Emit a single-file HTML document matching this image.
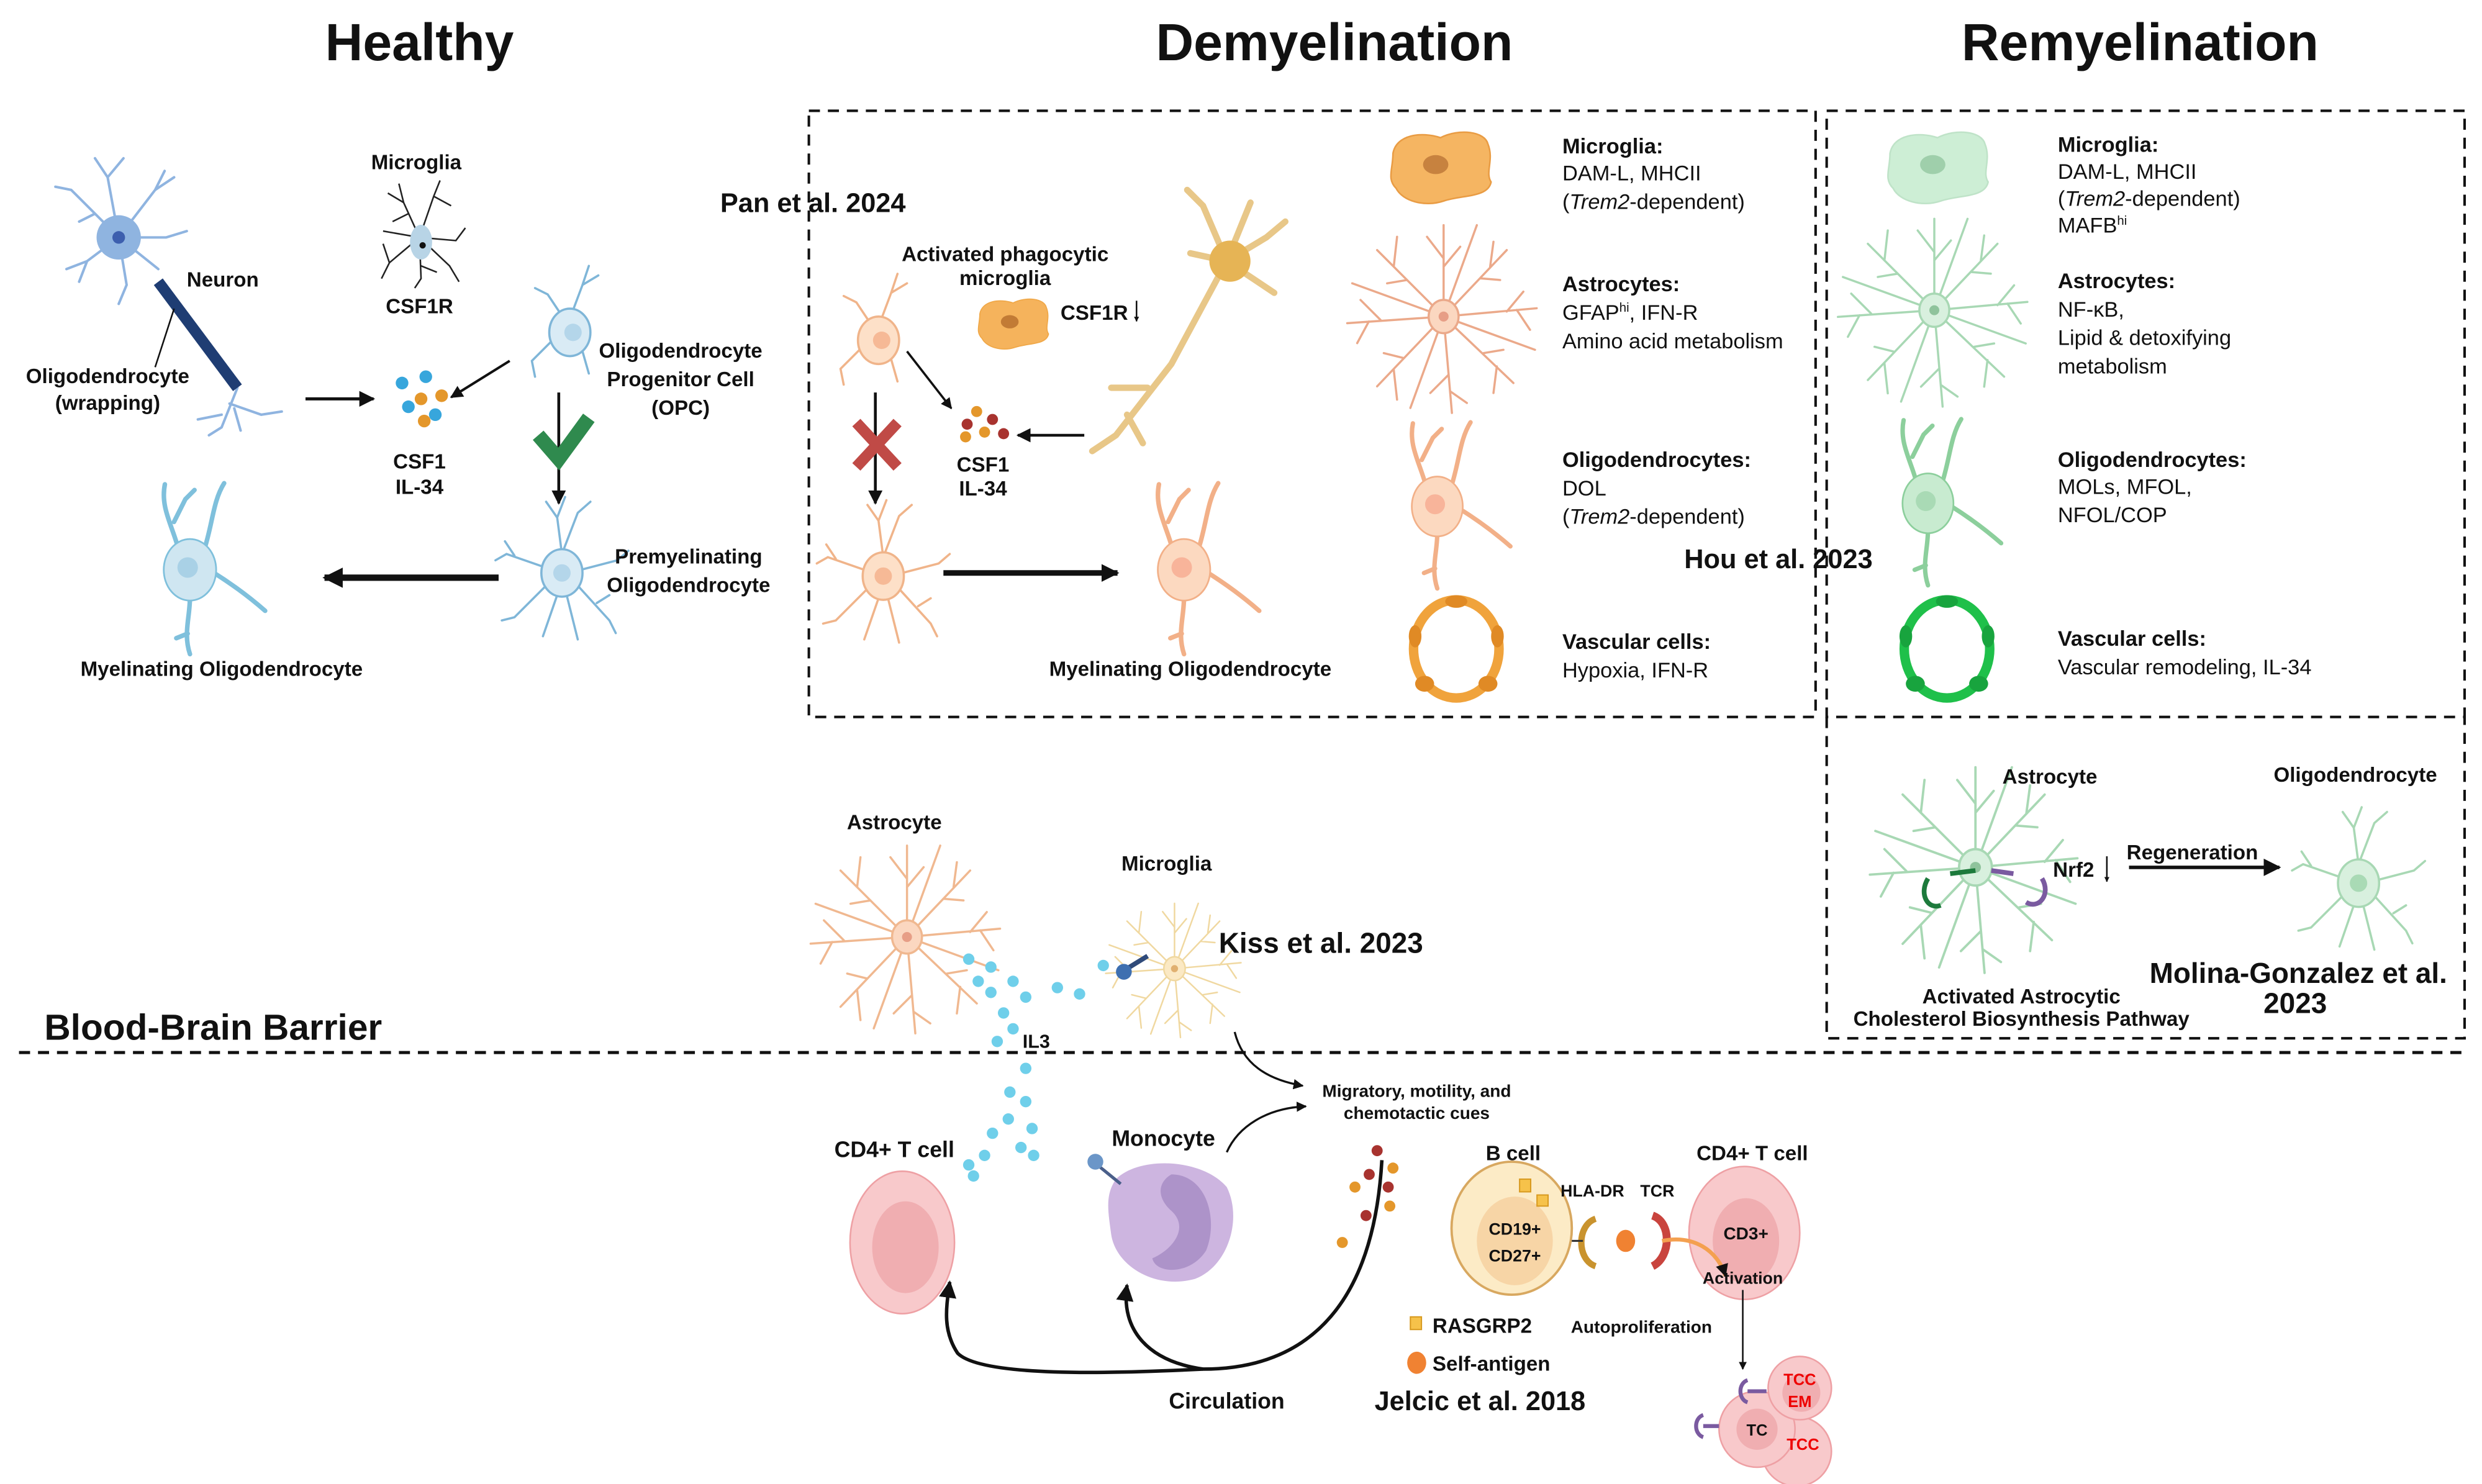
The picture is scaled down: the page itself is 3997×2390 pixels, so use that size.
<!DOCTYPE html>
<html><head><meta charset="utf-8"><style>
html,body{margin:0;padding:0;background:#fff}
svg{display:block}
text{font-family:"Liberation Sans Narrow","Liberation Sans",sans-serif;fill:#111}
.b{font-weight:bold}
.t{font-family:"Liberation Sans",sans-serif;font-weight:bold;font-size:33px}
.c{text-anchor:middle}
</style></head><body>
<svg width="3997" height="2390" viewBox="0 0 1568 937.6" preserveAspectRatio="none" xmlns="http://www.w3.org/2000/svg">
<defs>
<marker id="ar" viewBox="0 0 10 10" refX="9" refY="5" markerWidth="5" markerHeight="5" orient="auto"><path d="M0,0L10,5L0,10z" fill="#111"/></marker>
<marker id="ar2" viewBox="0 0 10 10" refX="9" refY="5" markerWidth="3.2" markerHeight="3.2" orient="auto"><path d="M0,0L10,5L0,10z" fill="#111"/></marker>
<g id="pre" fill="none" stroke="currentColor" stroke-width="1.4" stroke-linecap="round">
<path d="M0,-12L-3,-35L-10,-45M-3,-35L2,-48M0,-12L10,-38L18,-45M-12,-4L-35,-12L-42,-8M-30,-11L-36,-20M12,-2L35,-8L42,-14M-10,8L-30,28L-38,30M10,8L30,30L34,38M-3,14L-12,40M3,14L10,42M22,19L30,14"/>
<ellipse rx="13" ry="15" style="fill:var(--f)"/><circle r="5.5" stroke="none" style="fill:var(--n)"/>
</g>
<g id="opc" fill="none" stroke="currentColor" stroke-width="1.4" stroke-linecap="round">
<path d="M2,-14L8,-30L12,-42M8,-30L18,-36M-6,-12L-14,-24L-22,-28M-12,6L-24,18L-22,28M8,12L12,26"/>
<ellipse rx="13" ry="15" style="fill:var(--f)"/><circle cx="2" r="5.5" stroke="none" style="fill:var(--n)"/>
</g>
<g id="mye" fill="none" stroke="currentColor" stroke-width="4" stroke-linecap="round">
<path d="M-10,-18C-16,-40 -26,-55 -22,-75M-14,-42L-4,-62L4,-70M12,-16C20,-40 20,-60 30,-76M20,2C36,12 50,22 66,36M0,24C0,42 -6,56 0,74M-2,56L-12,60"/>
<ellipse rx="23" ry="27" style="fill:var(--f)" stroke-width="1.5"/><circle cx="-2" cy="-2" r="9" stroke="none" style="fill:var(--n)"/>
</g>
<g id="astro" fill="none" stroke="currentColor" stroke-width="1.3" stroke-linecap="round">
<path d="M0,0L0,-55M0,-35L-10,-48M0,-30L10,-42M0,0L38,-40M22,-23L34,-22M28,-30L30,-45M0,0L56,-5M38,-3L48,-15M44,-4L52,8M0,0L42,40M24,22L36,20M32,30L30,46M0,0L5,58M3,35L-8,46M4,45L14,52M0,0L-40,42M-24,25L-36,22M-30,32L-28,50M0,0L-58,4M-38,2L-50,-10M-45,3L-52,16M0,0L-40,-40M-22,-22L-34,-20M-30,-30L-28,-48M0,0L20,-55M0,0L-20,55M0,0L55,20M0,0L-55,-20"/>
<ellipse rx="9" ry="10" style="fill:var(--f)"/><circle r="3" stroke="none" style="fill:var(--n)"/>
</g>
<g id="mg" stroke-width="1" stroke="currentColor">
<path d="M-30,-8C-28,-20 -12,-22 0,-18C12,-24 28,-22 30,-14C34,-4 28,4 32,10C30,20 14,18 2,22C-10,26 -24,22 -28,14C-34,8 -30,2 -30,-8Z" style="fill:var(--f)"/>
<ellipse cx="-3" cy="-1" rx="8" ry="6" stroke="none" style="fill:var(--n)"/>
</g>
<g id="vasc" fill="none">
<ellipse rx="27" ry="31" stroke="currentColor" stroke-width="6"/>
<ellipse cx="0" cy="-30" rx="7" ry="4" style="fill:var(--n)"/><ellipse cx="26" cy="-8" rx="4" ry="7" style="fill:var(--n)"/><ellipse cx="20" cy="22" rx="6" ry="5" style="fill:var(--n)"/><ellipse cx="-20" cy="22" rx="6" ry="5" style="fill:var(--n)"/><ellipse cx="-26" cy="-8" rx="4" ry="7" style="fill:var(--n)"/>
</g>
</defs>

<text class="t c" x="265" y="38">Healthy</text>
<text class="t c" x="843" y="38">Demyelination</text>
<text class="t c" x="1352" y="38">Remyelination</text>

<g fill="none" stroke="#111" stroke-width="1.6" stroke-dasharray="7,5">
<rect x="511" y="70" width="636" height="383"/>
<rect x="1154" y="70" width="403" height="383"/>
<path d="M1154,453V656H1557V453"/>
<path d="M12,665H1557" stroke-width="2"/>
</g>
<text class="b" x="28" y="657" font-size="23" style="font-family:'Liberation Sans',sans-serif">Blood-Brain Barrier</text>

<!-- HEALTHY -->
<g stroke="#8fb4e0" stroke-width="1.6" fill="none" stroke-linecap="round">
<path d="M75,150L45,120L35,118M60,135L50,140M75,150L68,112L60,100M68,112L78,100M75,150L98,120L110,112M98,120L104,108M75,150L105,150L118,146M75,150L55,165L42,170M55,165L50,178M75,150L80,180L75,192M75,150L100,170"/>
<path d="M150,245L140,270L132,275M145,255L165,262L178,260M148,258L152,272M140,262L125,265"/>
</g>
<circle cx="75" cy="150" r="14" fill="#8fb4e0"/><circle cx="75" cy="150" r="4" fill="#3d5fae"/>
<path d="M100,178L150,245" stroke="#1f3d73" stroke-width="7"/>
<path d="M110,195L98,232" stroke="#111" stroke-width="1"/>
<text class="b" x="118" y="181" font-size="13">Neuron</text>
<text class="b c" x="68" y="242" font-size="13">Oligodendrocyte</text>
<text class="b c" x="68" y="259" font-size="13">(wrapping)</text>
<g stroke="#222" stroke-width="1" fill="none">
<path d="M265,150L255,128L252,116M255,128L245,122M258,135L248,140M265,150L274,124L278,114M274,124L285,130M265,150L288,152L294,144M265,150L284,168L290,178M265,150L266,176L262,182M266,168L276,172M265,150L246,166L241,176M246,166L242,154M265,150L242,146"/>
</g>
<ellipse cx="266" cy="153" rx="7" ry="11" fill="#b8d4e6"/><circle cx="267" cy="155" r="2" fill="#111"/>
<text class="b c" x="263" y="107" font-size="13">Microglia</text>
<text class="b c" x="265" y="198" font-size="13">CSF1R</text>
<g><circle cx="254" cy="242" r="4" fill="#37a6dc"/><circle cx="269" cy="238" r="4" fill="#37a6dc"/><circle cx="266" cy="252" r="4" fill="#e4972b"/><circle cx="279" cy="250" r="4" fill="#e4972b"/><circle cx="258" cy="257" r="4" fill="#37a6dc"/><circle cx="275" cy="262" r="4" fill="#37a6dc"/><circle cx="268" cy="266" r="4" fill="#e4972b"/></g>
<text class="b c" x="265" y="296" font-size="13">CSF1</text>
<text class="b c" x="265" y="312" font-size="13">IL-34</text>
<path d="M193,252H236" stroke="#111" stroke-width="2" marker-end="url(#ar)"/>
<path d="M322,228L285,251" stroke="#111" stroke-width="1.6" marker-end="url(#ar)"/>
<use href="#opc" x="360" y="210" style="color:#7fb6d8;--f:#d9ebf5;--n:#b4d6ea"/>
<path d="M353,248V318" stroke="#111" stroke-width="1.8" marker-end="url(#ar)"/>
<path d="M340,275L353,290L372,264" stroke="#2f8a4e" stroke-width="9" fill="none"/>
<text class="b c" x="430" y="226" font-size="13">Oligodendrocyte</text>
<text class="b c" x="430" y="244" font-size="13">Progenitor Cell</text>
<text class="b c" x="430" y="262" font-size="13">(OPC)</text>
<use href="#pre" x="355" y="362" style="color:#7fb6d8;--f:#d9ebf5;--n:#b4d6ea"/>
<text class="b c" x="435" y="356" font-size="13">Premyelinating</text>
<text class="b c" x="435" y="374" font-size="13">Oligodendrocyte</text>
<path d="M315,365H205" stroke="#111" stroke-width="4" marker-end="url(#ar2)"/>
<use href="#mye" transform="translate(120,360) scale(0.72)" style="color:#7fc0dc;--f:#cfe6f1;--n:#a9d1e6"/>
<text class="b c" x="140" y="427" font-size="13">Myelinating Oligodendrocyte</text>

<!-- DEMYELINATION left -->
<text class="b" x="455" y="134" font-size="17">Pan et al. 2024</text>
<use href="#opc" x="555" y="215" style="color:#f0b48a;--f:#fde0c8;--n:#f6b996"/>
<text class="b c" x="635" y="165" font-size="13">Activated phagocytic</text>
<text class="b c" x="635" y="180" font-size="13">microglia</text>
<use href="#mg" transform="translate(640,204) scale(0.7)" style="color:#f0a848;--f:#f5b35c;--n:#c27b35"/>
<text class="b" x="670" y="202" font-size="13">CSF1R</text><path d="M718,190V203" stroke="#111" stroke-width="1" marker-end="url(#ar2)"/>
<g stroke="#e0b460" stroke-width="4" fill="none" opacity="0.75" stroke-linecap="round">
<path d="M775,165L740,230L705,275M775,165L760,130L750,120M775,165L790,128M775,165L800,150L812,140M775,165L805,185M775,165L752,160M705,275L690,285M712,262L722,280M725,245L702,245"/>
</g>
<circle cx="777" cy="165" r="13" fill="#e6b455"/>
<path d="M573,222L601,258" stroke="#111" stroke-width="1.4" marker-end="url(#ar)"/>
<g><circle cx="617" cy="260" r="3.5" fill="#e4972b"/><circle cx="627" cy="265" r="3.5" fill="#a8332f"/><circle cx="611" cy="268" r="3.5" fill="#a8332f"/><circle cx="622" cy="273" r="3.5" fill="#e4972b"/><circle cx="634" cy="274" r="3.5" fill="#a8332f"/><circle cx="610" cy="276" r="3.5" fill="#e4972b"/></g>
<text class="b c" x="621" y="298" font-size="13">CSF1</text>
<text class="b c" x="621" y="313" font-size="13">IL-34</text>
<path d="M685,275H643" stroke="#111" stroke-width="1.8" marker-end="url(#ar)"/>
<path d="M553,248V318" stroke="#111" stroke-width="1.8" marker-end="url(#ar)"/>
<path d="M541,267L567,295M567,267L541,295" stroke="#c04a46" stroke-width="7"/>
<use href="#pre" x="558" y="364" style="color:#f0b48a;--f:#fde0c8;--n:#f6b996"/>
<path d="M596,362H706" stroke="#111" stroke-width="3.5" marker-end="url(#ar2)"/>
<use href="#mye" transform="translate(748,360) scale(0.72)" style="color:#f2b088;--f:#fcd9c0;--n:#f8b49a"/>
<text class="b c" x="752" y="427" font-size="13">Myelinating Oligodendrocyte</text>

<!-- DEMYELINATION right column -->
<use href="#mg" transform="translate(910,105)" style="color:#e99c44;--f:#f5b562;--n:#c7823f"/>
<use href="#astro" transform="translate(912,200) scale(1.05)" style="color:#eba98a;--f:#fbd7c0;--n:#e79e86"/>
<use href="#mye" transform="translate(908,320) scale(0.7)" style="color:#f2b088;--f:#fcd9c0;--n:#f8b49a"/>
<use href="#vasc" x="920" y="410" style="color:#f0a33c;--n:#e08a25"/>
<g font-size="13.5">
<text class="b" x="987" y="97">Microglia:</text>
<text x="987" y="114">DAM-L, MHCII</text>
<text x="987" y="132">(<tspan font-style="italic">Trem2</tspan>-dependent)</text>
<text class="b" x="987" y="184">Astrocytes:</text>
<text x="987" y="202">GFAP<tspan font-size="8" dy="-5">hi</tspan><tspan dy="5">, IFN-R</tspan></text>
<text x="987" y="220">Amino acid metabolism</text>
<text class="b" x="987" y="295">Oligodendrocytes:</text>
<text x="987" y="313">DOL</text>
<text x="987" y="331">(<tspan font-style="italic">Trem2</tspan>-dependent)</text>
<text class="b" x="987" y="410">Vascular cells:</text>
<text x="987" y="428">Hypoxia, IFN-R</text>
</g>
<text class="b" x="1064" y="359" font-size="17">Hou et al.  2023</text>

<!-- REMYELINATION -->
<use href="#mg" transform="translate(1224,105)" style="color:#bfe3c8;--f:#cdeed5;--n:#9fcfab"/>
<use href="#astro" transform="translate(1222,196) scale(1.05)" style="color:#a8d8b4;--f:#d8f0de;--n:#8fc39c"/>
<use href="#mye" transform="translate(1218,318) scale(0.7)" style="color:#8ccf9c;--f:#c8ebd0;--n:#a9dab5"/>
<use href="#vasc" x="1230" y="410" style="color:#1fc04a;--n:#18a43e"/>
<g font-size="13.5">
<text class="b" x="1300" y="96">Microglia:</text>
<text x="1300" y="113">DAM-L, MHCII</text>
<text x="1300" y="130">(<tspan font-style="italic">Trem2</tspan>-dependent)</text>
<text x="1300" y="147">MAFB<tspan font-size="8" dy="-5">hi</tspan></text>
<text class="b" x="1300" y="182">Astrocytes:</text>
<text x="1300" y="200">NF-κB,</text>
<text x="1300" y="218">Lipid &amp; detoxifying</text>
<text x="1300" y="236">metabolism</text>
<text class="b" x="1300" y="295">Oligodendrocytes:</text>
<text x="1300" y="312">MOLs, MFOL,</text>
<text x="1300" y="330">NFOL/COP</text>
<text class="b" x="1300" y="408">Vascular cells:</text>
<text x="1300" y="426">Vascular remodeling, IL-34</text>
</g>
<use href="#astro" transform="translate(1248,548) scale(1.15)" style="color:#a8d8b4;--f:#d8f0de;--n:#8fc39c"/>
<path d="M1218,555C1212,565 1218,575 1226,572M1232,552L1248,550" stroke="#1d7a3c" stroke-width="3" fill="none"/>
<path d="M1290,555C1296,565 1288,575 1280,570M1272,552L1258,550" stroke="#7a5aa0" stroke-width="3" fill="none"/>
<text class="b c" x="1295" y="495" font-size="13">Astrocyte</text>
<text class="b" x="1297" y="554" font-size="13">Nrf2</text><path d="M1331,541V557" stroke="#111" stroke-width="1" marker-end="url(#ar2)"/>
<text class="b c" x="1385" y="543" font-size="13">Regeneration</text>
<path d="M1345,548H1440" stroke="#111" stroke-width="2.2" marker-end="url(#ar)"/>
<text class="b c" x="1488" y="494" font-size="13">Oligodendrocyte</text>
<use href="#pre" x="1490" y="558" style="color:#a8d8b4;--f:#d8f0de;--n:#a9dab5"/>
<text class="b c" x="1277" y="634" font-size="13">Activated Astrocytic</text>
<text class="b c" x="1277" y="648" font-size="13">Cholesterol Biosynthesis Pathway</text>
<text class="b c" x="1452" y="621" font-size="18">Molina-Gonzalez et al.</text>
<text class="b c" x="1450" y="640" font-size="18">2023</text>

<!-- middle -->
<text class="b c" x="565" y="524" font-size="13">Astrocyte</text>
<use href="#astro" transform="translate(573,592) scale(1.05)" style="color:#f0b890;--f:#fbd7c0;--n:#e79e86"/>
<text class="b c" x="737" y="550" font-size="13">Microglia</text>
<use href="#astro" transform="translate(742,612) scale(0.75)" style="color:#f0d8a0;--f:#fbe9c4;--n:#e0b070"/>
<path d="M712,612L725,604" stroke="#2f4a7a" stroke-width="3"/><circle cx="710" cy="614" r="5" fill="#3e6fb0"/>
<text class="b" x="770" y="602" font-size="18">Kiss et al. 2023</text>
<g fill="#6fcfea">
<circle cx="612" cy="606" r="3.6"/><circle cx="626" cy="611" r="3.6"/><circle cx="618" cy="620" r="3.6"/><circle cx="626" cy="627" r="3.6"/><circle cx="640" cy="620" r="3.6"/><circle cx="648" cy="630" r="3.6"/><circle cx="634" cy="640" r="3.6"/><circle cx="640" cy="650" r="3.6"/><circle cx="668" cy="624" r="3.6"/><circle cx="682" cy="628" r="3.6"/><circle cx="697" cy="610" r="3.6"/><circle cx="630" cy="658" r="3.6"/><circle cx="648" cy="675" r="3.6"/><circle cx="638" cy="690" r="3.6"/><circle cx="648" cy="696" r="3.6"/><circle cx="637" cy="707" r="3.6"/><circle cx="652" cy="713" r="3.6"/><circle cx="627" cy="716" r="3.6"/><circle cx="645" cy="725" r="3.6"/><circle cx="653" cy="730" r="3.6"/><circle cx="622" cy="730" r="3.6"/><circle cx="612" cy="736" r="3.6"/><circle cx="615" cy="743" r="3.6"/>
</g>
<text class="b" x="646" y="662" font-size="12">IL3</text>
<path d="M780,652C785,672 800,682 823,686" stroke="#111" stroke-width="1.3" fill="none" marker-end="url(#ar)"/>
<path d="M775,728C782,712 800,700 825,699" stroke="#111" stroke-width="1.3" fill="none" marker-end="url(#ar)"/>
<text class="b c" x="895" y="693" font-size="11">Migratory, motility, and</text>
<text class="b c" x="895" y="707" font-size="11">chemotactic cues</text>

<text class="b c" x="565" y="731" font-size="14">CD4+ T cell</text>
<ellipse cx="570" cy="785" rx="33" ry="45" fill="#f8c9cb" stroke="#eea0a4" stroke-width="1"/>
<ellipse cx="572" cy="788" rx="21" ry="29" fill="#f0aeb1"/>
<text class="b c" x="735" y="724" font-size="14">Monocyte</text>
<path d="M705,745C720,730 760,732 775,750C785,770 776,800 755,808C730,815 705,800 702,780C700,765 698,755 705,745Z" fill="#cdb5e0"/>
<path d="M740,742C762,742 770,770 762,790C752,806 730,805 728,795C740,790 752,776 740,765C732,758 730,748 740,742Z" fill="#ad93c9"/>
<path d="M692,735L708,748" stroke="#4a5f8a" stroke-width="2"/><circle cx="692" cy="734" r="5" fill="#6b96c8"/>
<g><circle cx="870" cy="727" r="3.5" fill="#a8332f"/><circle cx="865" cy="742" r="3.5" fill="#a8332f"/><circle cx="880" cy="738" r="3.5" fill="#e4972b"/><circle cx="877" cy="750" r="3.5" fill="#a8332f"/><circle cx="856" cy="750" r="3.5" fill="#e4972b"/><circle cx="878" cy="762" r="3.5" fill="#e4972b"/><circle cx="863" cy="768" r="3.5" fill="#a8332f"/><circle cx="848" cy="785" r="3.5" fill="#e4972b"/></g>
<path d="M873,733C868,820 830,865 760,865C700,868 620,870 605,855C595,840 598,825 600,810" stroke="#111" stroke-width="2.2" fill="none" marker-end="url(#ar)"/>
<path d="M760,865C725,860 708,840 712,812" stroke="#111" stroke-width="2.2" fill="none" marker-end="url(#ar)"/>
<text class="b c" x="775" y="890" font-size="14">Circulation</text>

<text class="b c" x="956" y="733" font-size="13">B cell</text>
<ellipse cx="955" cy="776" rx="38" ry="42" fill="#fcebc6" stroke="#d8a860" stroke-width="1.5"/>
<ellipse cx="957" cy="784" rx="24" ry="28" fill="#f7d5a6"/>
<rect x="960" y="745" width="7" height="8" fill="#f6c24a" stroke="#d89a20" stroke-width="0.8"/><rect x="971" y="755" width="7" height="7" fill="#f6c24a" stroke="#d89a20" stroke-width="0.8"/>
<text class="b c" x="957" y="780" font-size="10.5">CD19+</text><text class="b c" x="957" y="797" font-size="10.5">CD27+</text>
<text class="b c" x="1006" y="756" font-size="10.5">HLA-DR</text><text class="b c" x="1047" y="756" font-size="10.5">TCR</text>
<path d="M1008,770C996,774 996,796 1008,800" stroke="#c9932e" stroke-width="4" fill="none"/>
<path d="M993,784H1000" stroke="#333" stroke-width="1.2"/>
<ellipse cx="1027" cy="784" rx="6" ry="7" fill="#f08232"/>
<path d="M1044,768C1056,772 1056,794 1044,800" stroke="#c9443e" stroke-width="5" fill="none"/>
<text class="b c" x="1107" y="733" font-size="13">CD4+ T cell</text>
<ellipse cx="1102" cy="779" rx="35" ry="42" fill="#f8c9cb" stroke="#eea0a4"/>
<ellipse cx="1103" cy="784" rx="21" ry="27" fill="#f0aeb1"/>
<text class="b c" x="1103" y="783" font-size="11">CD3+</text>
<path d="M1050,784C1070,780 1085,790 1090,806" stroke="#f4a050" stroke-width="2.5" fill="none" marker-end="url(#ar2)"/>
<text class="b c" x="1101" y="811" font-size="10.5">Activation</text>
<path d="M1101,815V865" stroke="#111" stroke-width="1" marker-end="url(#ar)"/>
<text class="b c" x="1037" y="842" font-size="11">Autoproliferation</text>
<rect x="891" y="832" width="7" height="8" fill="#f6c24a" stroke="#d89a20" stroke-width="0.8"/>
<text class="b" x="905" y="842" font-size="13">RASGRP2</text>
<ellipse cx="895" cy="861" rx="6" ry="7" fill="#f08232"/>
<text class="b" x="905" y="866" font-size="13">Self-antigen</text>
<text class="b c" x="935" y="891" font-size="17">Jelcic et al. 2018</text>
<g>
<circle cx="1135" cy="917" r="22" fill="#f8c9cb" stroke="#eea0a4"/>
<circle cx="1110" cy="903" r="24" fill="#f8c9cb" stroke="#eea0a4"/>
<circle cx="1110" cy="903" r="13" fill="#f0aeb1"/>
<circle cx="1137" cy="877" r="20" fill="#f8c9cb" stroke="#eea0a4"/>
<circle cx="1138" cy="880" r="12" fill="#f0aeb1"/>
<text class="b c" x="1110" y="907" font-size="10">TC</text>
<text class="b c" x="1137" y="875" font-size="10" style="fill:#e00">TCC</text>
<text class="b c" x="1137" y="889" font-size="10" style="fill:#e00">EM</text>
<text class="b c" x="1139" y="916" font-size="10" style="fill:#e00">TCC</text>
<path d="M1116,879H1104M1104,872C1098,874 1098,884 1104,886" stroke="#7a5aa0" stroke-width="2.5" fill="none"/>
<path d="M1086,901H1076M1076,894C1070,896 1070,906 1076,908" stroke="#7a5aa0" stroke-width="2.5" fill="none"/>
</g>
</svg>
</body></html>
